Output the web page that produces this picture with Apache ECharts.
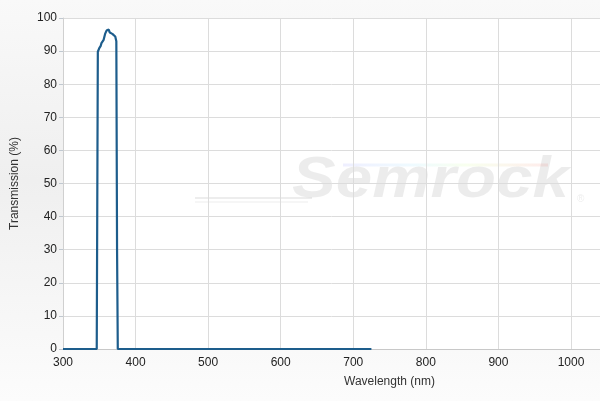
<!DOCTYPE html>
<html>
<head>
<meta charset="utf-8">
<script src="https://cdn.jsdelivr.net/npm/echarts@6/dist/echarts.min.js"></script>
<style>
html,body{margin:0;padding:0;}
#chart{width:600px;height:401px;}
</style>
</head>
<body>
<div id="chart"></div>
<script>
// spectrum (nm / %)
var wavelength = [300, 346.5, 347.5, 348, 349, 350, 351, 352, 353, 354, 356, 358, 360, 361.5, 363, 364.5, 366, 368, 370, 372, 373.5, 374.5, 375.5, 725];
var transmission = [0, 0, 60, 89.8, 90.2, 90.9, 91.2, 91.6, 92.4, 92.6, 93.4, 95.2, 96.2, 96.7, 96.5, 95.6, 95.4, 95.2, 95, 94.4, 93, 30, 0, 0];

var xTicks = [300, 400, 500, 600, 700, 800, 900, 1000];
var yTicks = [0, 10, 20, 30, 40, 50, 60, 70, 80, 90, 100];

var points = [];
for (var i = 0; i < wavelength.length; i++) {
	points.push([wavelength[i], transmission[i]]);
}

var myChart = echarts.init(document.getElementById('chart'));
var option = {
	backgroundColor: {
		type: 'linear', x: 0, y: 0, x2: 0, y2: 1,
		colorStops: [
			{offset: 0, color: '#f9f9f9'},
			{offset: 0.45, color: '#efefef'},
			{offset: 1, color: '#fcfcfc'}
		]
	},
	animation: false,
	grid: {
		left: 63, right: 0, top: 18, bottom: 52,
		show: true, backgroundColor: '#ffffff', borderWidth: 0
	},
	graphic: [
		{
			type: 'line', silent: true, z: 0,
			shape: {x1: 195, y1: 198, x2: 312, y2: 198},
			style: {stroke: 'rgba(0,0,0,0.07)', lineWidth: 2}
		},
		{
			type: 'line', silent: true, z: 0,
			shape: {x1: 195, y1: 202, x2: 308, y2: 202},
			style: {stroke: 'rgba(0,0,0,0.05)', lineWidth: 1.5}
		},
		{
			type: 'line', silent: true, z: 0,
			shape: {x1: 343, y1: 165, x2: 548, y2: 165},
			style: {
				lineWidth: 3,
				stroke: {
					type: 'linear', x: 0, y: 0, x2: 1, y2: 0,
					colorStops: [
						{offset: 0, color: 'rgba(120,120,255,0.12)'},
						{offset: 0.35, color: 'rgba(120,220,255,0.12)'},
						{offset: 0.6, color: 'rgba(200,255,120,0.12)'},
						{offset: 1, color: 'rgba(255,120,120,0.15)'}
					]
				}
			}
		},
		{
			type: 'text', silent: true, z: 0,
			x: 292, y: 152, scaleX: 1.13,
			style: {
				text: 'Semrock',
				font: 'italic bold 58px "Liberation Sans", Arial, sans-serif',
				fill: 'rgba(0,0,0,0.075)'
			}
		},
		{
			type: 'text', silent: true, z: 0,
			x: 577, y: 194,
			style: {
				text: '\u00ae',
				font: '10px "Liberation Sans", Arial, sans-serif',
				fill: 'rgba(0,0,0,0.08)'
			}
		}
	],
	xAxis: {
		type: 'value',
		min: 300, max: 1040, interval: 100,
		name: 'Wavelength (nm)',
		nameLocation: 'middle',
		nameGap: 27,
		nameTextStyle: {color: '#333', fontSize: 12, fontFamily: 'Liberation Sans', padding: [0, 0, 0, 116]},
		axisLine: {show: true, lineStyle: {color: '#c8c8c8'}},
		axisTick: {show: false},
		axisLabel: {
			color: '#222', fontSize: 12, fontFamily: 'Liberation Sans', margin: 8,
			showMaxLabel: false,
			formatter: function (v) { return xTicks.indexOf(v) >= 0 ? v : ''; }
		},
		splitLine: {show: true, lineStyle: {color: '#dcdcdc', width: 1}}
	},
	yAxis: {
		type: 'value',
		min: 0, max: 100, interval: 10,
		name: 'Transmission (%)',
		nameLocation: 'middle',
		nameGap: 42,
		nameTextStyle: {color: '#333', fontSize: 12, fontFamily: 'Liberation Sans'},
		axisLine: {show: true, lineStyle: {color: '#d0d0d0'}},
		axisTick: {show: true, length: 4, lineStyle: {color: '#c0c8d0'}},
		axisLabel: {
			color: '#222', fontSize: 12, fontFamily: 'Liberation Sans', margin: 6,
			formatter: function (v) { return yTicks.indexOf(v) >= 0 ? v : ''; }
		},
		splitLine: {show: true, lineStyle: {color: '#dcdcdc', width: 1}}
	},
	series: [
		{
			type: 'line',
			data: points,
			showSymbol: false,
			lineStyle: {color: '#1d5d8c', width: 2.2},
			z: 3
		}
	]
};
myChart.setOption(option);
</script>
</body>
</html>
